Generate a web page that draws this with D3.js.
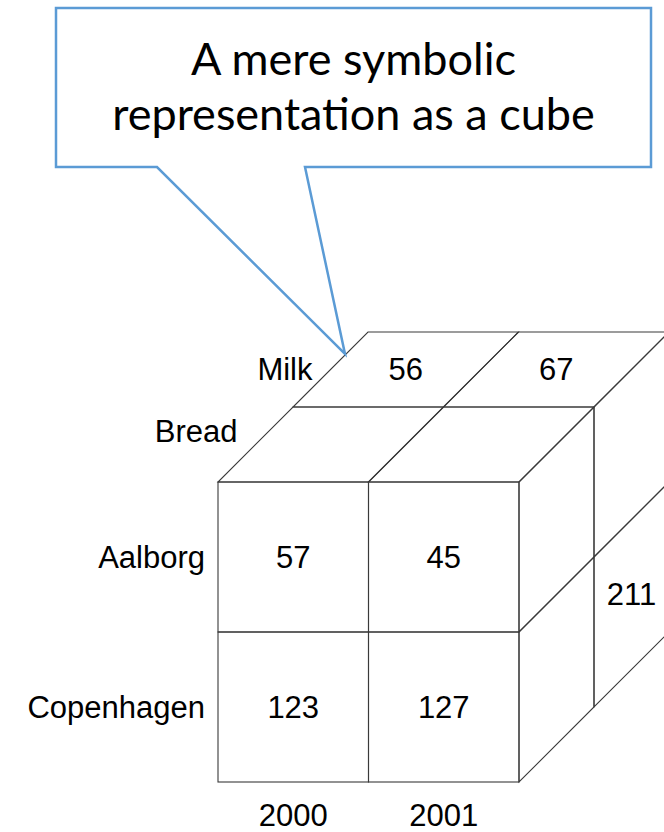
<!DOCTYPE html>
<html>
<head>
<meta charset="utf-8">
<script src="https://cdn.jsdelivr.net/npm/d3@7"></script>
<style>
  body { margin: 0; background: #fff; }
  svg { display: block; }
</style>
</head>
<body>
<svg id="cube" width="664" height="832"></svg>
<script>
// the data shown on the cube
const years = ["2000", "2001"];
const cities = ["Aalborg", "Copenhagen"];
const products = ["Bread", "Milk"];          // front layer first, back layer last
const frontValues = [[57, 45], [123, 127]];  // rows = cities, cols = years
const topValues = [56, 67];                  // Milk layer, per year
const sideValues = [null, 211];              // 2001 side, Milk layer, per city
const calloutLines = ["A mere symbolic", "representation as a cube"];

let svg = d3.select("#cube"),
    font = "'Liberation Sans', Arial, sans-serif";

let x = d3.scaleBand().domain(years).range([218, 519]),
    y = d3.scaleBand().domain(cities).range([482, 782]),
    depth = d3.scaleBand().domain(products).range([0, 150]);

const top0 = y.range()[0], right0 = x.range()[1];
// simple oblique projection: depth goes up and to the right
const proj = (px, py, d) => [px + d, py - d];
const poly = pts => "M" + pts.map(p => p.join(",")).join("L") + "Z";

let g = svg.append("g").attr("fill", "none").attr("stroke", "#3a3a3a").attr("stroke-width", 1.1);

// front face
cities.forEach((c, j) => years.forEach((yr, i) => {
    g.append("rect")
        .attr("x", x(yr)).attr("y", y(c))
        .attr("width", x.bandwidth()).attr("height", y.bandwidth());
}));

// top face
products.forEach(p => years.forEach(yr => {
    let d0 = depth(p), d1 = d0 + depth.bandwidth(), x0 = x(yr), x1 = x0 + x.bandwidth();
    g.append("path")
        .attr("d", poly([proj(x0, top0, d0), proj(x1, top0, d0), proj(x1, top0, d1), proj(x0, top0, d1)]));
}));

// right face
products.forEach(p => cities.forEach(c => {
    let d0 = depth(p), d1 = d0 + depth.bandwidth(), y0 = y(c), y1 = y0 + y.bandwidth();
    g.append("path")
        .attr("d", poly([proj(right0, y0, d0), proj(right0, y0, d1), proj(right0, y1, d1), proj(right0, y1, d0)]));
}));

let txt = svg.append("g").attr("font-family", font).attr("font-size", 31).attr("fill", "#000");

// cell values on the front face
cities.forEach((c, j) => years.forEach((yr, i) => {
    txt.append("text")
        .attr("x", x(yr) + x.bandwidth() / 2)
        .attr("y", y(c) + y.bandwidth() / 2 + 11)
        .attr("text-anchor", "middle")
        .text(frontValues[j][i]);
}));

// values on the top face (Milk layer)
years.forEach((yr, i) => {
    let dm = depth("Milk") + depth.bandwidth() / 2;
    let p = proj(x(yr) + x.bandwidth() / 2, top0, dm);
    txt.append("text").attr("x", p[0]).attr("y", p[1] + 10)
        .attr("text-anchor", "middle").text(topValues[i]);
});

// values on the right face
cities.forEach((c, j) => {
    if (sideValues[j] == null) return;
    let dm = depth("Milk") + depth.bandwidth() / 2;
    let p = proj(right0, y(c) + y.bandwidth() / 2, dm);
    txt.append("text").attr("x", p[0]).attr("y", p[1] + 10)
        .attr("text-anchor", "middle").text(sideValues[j]);
});

// city labels
cities.forEach(c => {
    txt.append("text")
        .attr("x", x.range()[0] - 13)
        .attr("y", y(c) + y.bandwidth() / 2 + 11)
        .attr("text-anchor", "end")
        .text(c);
});

// year labels
years.forEach(yr => {
    txt.append("text")
        .attr("x", x(yr) + x.bandwidth() / 2)
        .attr("y", y.range()[1] + 44)
        .attr("text-anchor", "middle")
        .text(yr);
});

// product labels along the left edge of the top face
const productLift = {"Milk": 0, "Bread": 13};
products.forEach(p => {
    let pt = proj(x.range()[0], top0, depth(p) + depth.bandwidth() / 2);
    txt.append("text")
        .attr("x", pt[0] - 18)
        .attr("y", pt[1] + 10 - productLift[p])
        .attr("text-anchor", "end")
        .text(p);
});

// speech bubble callout
let bubble = [[56, 8], [651, 8], [651, 167], [305, 167], [345, 354], [157, 167], [56, 167]];
svg.append("path")
    .attr("d", poly(bubble))
    .attr("fill", "#fff")
    .attr("stroke", "#5b9bd5")
    .attr("stroke-width", 2.5)
    .attr("stroke-linejoin", "miter");

svg.append("g")
    .attr("font-family", "Lato, 'Open Sans', sans-serif")
    .attr("font-size", 45)
    .attr("fill", "#000")
    .attr("text-anchor", "middle")
  .selectAll("text")
    .data(calloutLines)
    .enter().append("text")
        .attr("x", 353.5)
        .attr("y", (d, i) => 75 + i * 55)
        .text(d => d);
</script>
</body>
</html>
